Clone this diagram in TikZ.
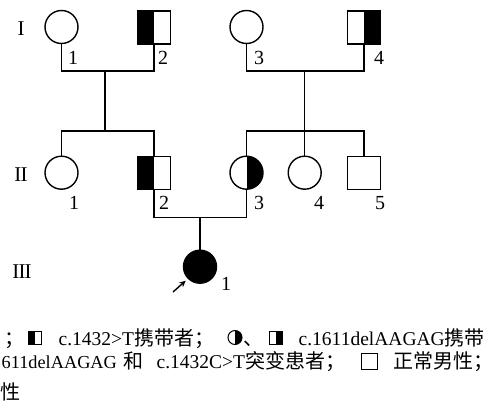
\documentclass[tikz,border=0pt]{standalone}
\usepackage{fontspec}
\setmainfont{Liberation Serif}
\newfontfamily\cjkfont{Noto Sans CJK SC}
\newcommand{\zhtxt}[1]{{\cjkfont\fontsize{20}{22}\selectfont #1}}
\usetikzlibrary{arrows.meta,calc}
\begin{document}
\begin{tikzpicture}[x=1pt,y=-1pt,line width=1.4pt,
  fem/.style={circle,draw,minimum size=33pt,inner sep=0pt,outer sep=0pt},
  male/.style={rectangle,draw,minimum size=33pt,inner sep=0pt,outer sep=0pt},
  halfleft/.style={path picture={\fill[black] (path picture bounding box.north west) rectangle (path picture bounding box.south);}},
  halfright/.style={path picture={\fill[black] (path picture bounding box.north) rectangle (path picture bounding box.south east);}},
  full/.style={fill=black},
  lbl/.style={inner sep=0pt,font=\fontsize{20}{22}\selectfont},
  genlbl/.style={inner sep=0pt,font=\fontsize{21}{22}\selectfont},
  leg/.style={anchor=base west,inner sep=0pt,font=\fontsize{19.5}{22}\selectfont},
  lsq/.style={rectangle,draw,line width=1pt,minimum size=13pt,inner sep=0pt},
  lcirc/.style={circle,draw,line width=1pt,minimum size=14pt,inner sep=0pt}
]
\useasboundingbox (0,0) rectangle (497,406);
% generation labels
\node[genlbl] (gI) at (21,29) {I};
\node[genlbl] (gII) at (21,175) {I\kern-0.9pt I};
\node[genlbl] (gIII) at (22,272) {I\kern-0.9pt I\kern-0.9pt I};
% generation I
\node[fem] (i1) at (61.5,27) {};
\node[male,halfleft] (i2) at (154,27.5) {};
\node[fem] (i3) at (246.5,27) {};
\node[male,halfright] (i4) at (364,27.5) {};
\node[lbl] (li1) at (73,58) {1};
\node[lbl] (li2) at (163,58) {2};
\node[lbl] (li3) at (259,58) {3};
\node[lbl] (li4) at (379,58) {4};
% generation II
\node[fem] (ii1) at (61.5,172.7) {};
\node[male,halfleft] (ii2) at (154,173) {};
\node[fem,halfright] (ii3) at (246.5,172.7) {};
\node[fem] (ii4) at (304.7,172.7) {};
\node[male] (ii5) at (364,173) {};
\node[lbl] (lii1) at (74,203) {1};
\node[lbl] (lii2) at (164,203) {2};
\node[lbl] (lii3) at (259,203) {3};
\node[lbl] (lii4) at (319,203) {4};
\node[lbl] (lii5) at (380,203) {5};
% generation III
\node[fem,full] (iii1) at (200,266.7) {};
\node[lbl] (liii1) at (226,283.5) {1};
% connectors
\coordinate (m1) at (105,71);
\coordinate (s1) at (105,131);
\coordinate (m2) at (304.7,71);
\coordinate (s2) at (304.7,131);
\coordinate (m3) at (200,217.7);
\draw (i1.south) -- (i1.south |- m1) -- (i2.south |- m1) -- (i2.south);
\draw (i3.south) -- (i3.south |- m2) -- (i4.south |- m2) -- (i4.south);
\draw (m1) -- (s1);
\draw (m2) -- (s2);
\draw (ii1.north) -- (ii1.north |- s1) -- (ii2.north |- s1) -- (ii2.north);
\draw (ii3.north) -- (ii3.north |- s2) -- (ii5.north |- s2) -- (ii5.north);
\draw (s2) -- (ii4.north);
\draw (ii2.south) -- (ii2.south |- m3) -- (ii3.south |- m3) -- (ii3.south);
\draw (m3) -- (iii1.north);
\coordinate (arr) at (173,292);
\draw[-{Stealth[length=6.5pt,width=6pt]},line width=1.4pt,shorten >=3.5pt] (arr) -- (iii1.south west);
% legend
\node[leg] (t1) at (4,345) {\zhtxt{；}};
\node[lsq,halfleft] (k1) at (35,337.5) {};
\node[leg] (t2) at (58,345) {c.1432>T\zhtxt{携带者；}};
\node[lcirc,halfright] (k2) at (235,337.5) {};
\node[leg] (t3) at (243,345) {\zhtxt{、}};
\node[lsq,halfright] (k3) at (275.5,337.5) {};
\node[leg] (t4) at (298,345) {c.1611delAAGAG\zhtxt{携带}};
\node[leg,font=\fontsize{18.3}{22}\selectfont] (t5) at (1,368) {611delAAGAG};
\node[leg] (t6) at (123,368) {\zhtxt{和}};
\node[leg] (t7) at (156,368) {c.1432C>T\zhtxt{突变患者；}};
\node[lsq,minimum size=16pt] (k4) at (369,361) {};
\node[leg] (t8) at (393,368) {\zhtxt{正常男性；}};
\node[leg] (t9) at (0,399) {\zhtxt{性}};
\end{tikzpicture}
\end{document}
